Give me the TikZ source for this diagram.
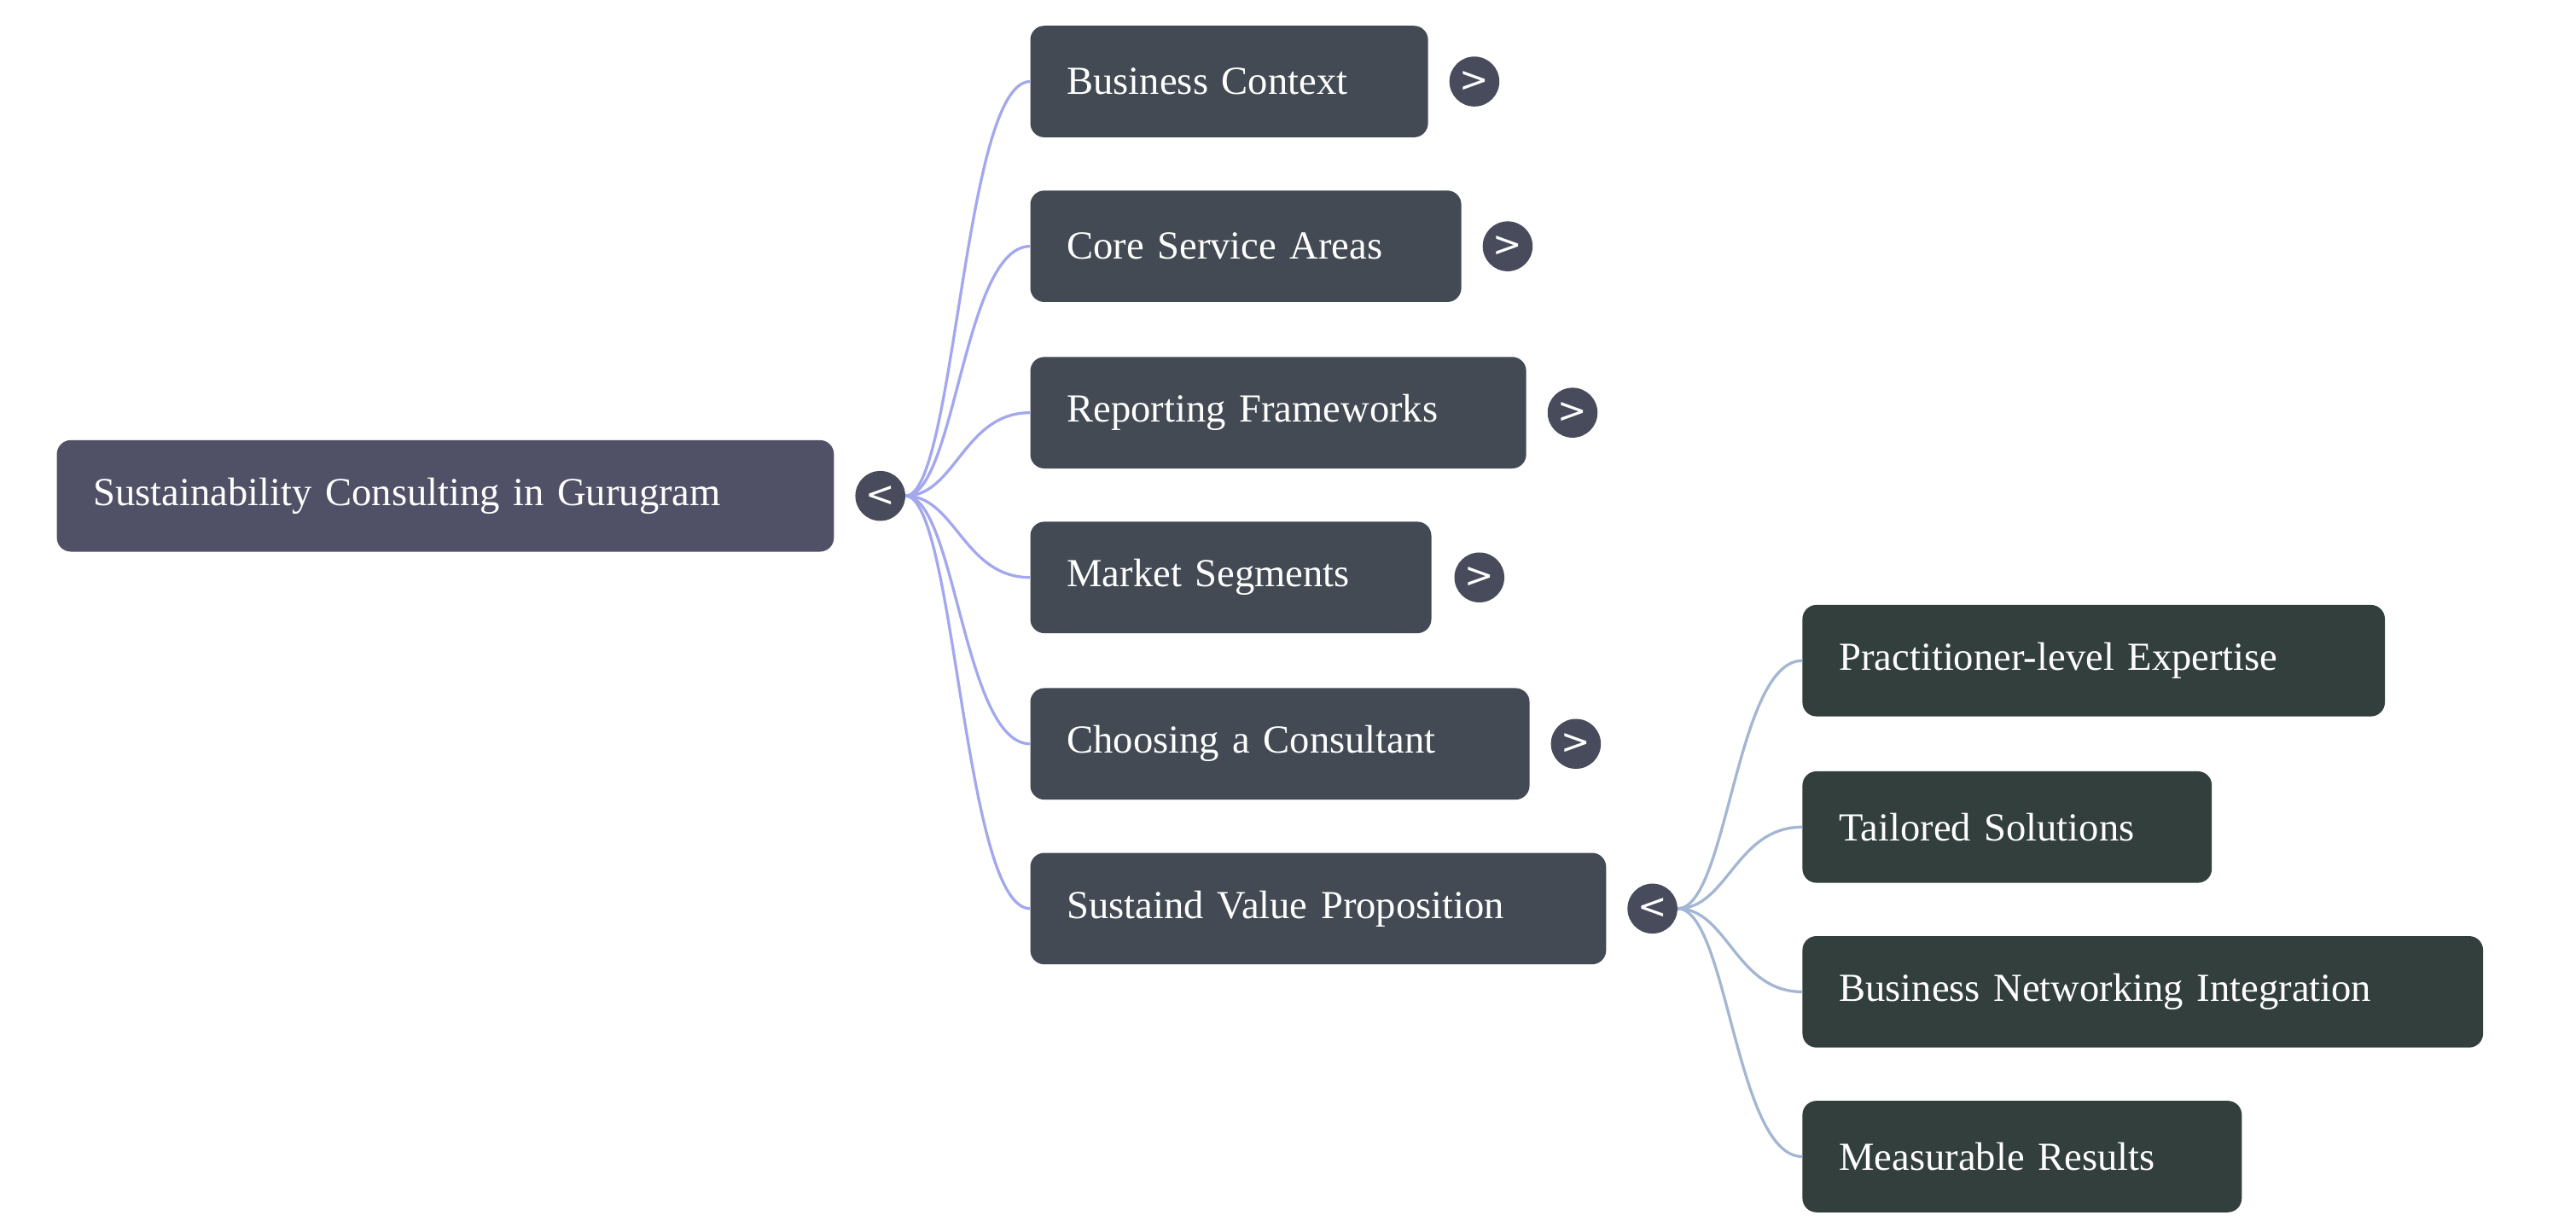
\documentclass[tikz,border=0pt]{standalone}
\usepackage{fontspec}
\setmainfont{Liberation Serif}[WordSpace=0.8]
\setsansfont{DejaVu Sans}
\definecolor{rootfill}{HTML}{505166}
\definecolor{midfill}{HTML}{434A54}
\definecolor{leaffill}{HTML}{323F3C}
\definecolor{knobfill}{HTML}{474B5B}
\definecolor{rootline}{HTML}{A3A8EE}
\definecolor{leafline}{HTML}{A3B6D3}
\tikzset{
  box/.style={rounded corners=12pt, anchor=west, text=white, inner xsep=22*0.05cm,
    text width=#1*0.05cm-44*0.05cm, align=left, minimum height=67*0.05cm,
    font=\fontsize{34}{40}\selectfont},
  knob/.style={circle, fill=knobfill, text=white, minimum size=30*0.05cm, inner sep=0pt,
    font=\sffamily\fontsize{30}{30}\selectfont},
  link/.style={line width=2.4pt, rootline},
  leaflink/.style={line width=2.4pt, leafline}
}
\begin{document}
\begin{tikzpicture}[x=0.05cm,y=-0.05cm]
  \useasboundingbox (0,0) rectangle (1548,737);
  % root
  \node[box=467, fill=rootfill] (root) at (34,298) {Sustainability Consulting in Gurugram};
  \node[knob] (rk) at (529,298) {<};
  % branches
  \node[box=239, fill=midfill] (ctx) at (619,49) {Business Context};
  \node[box=259, fill=midfill] (core) at (619,148) {Core Service Areas};
  \node[box=298, fill=midfill] (rep) at (619,248) {Reporting Frameworks};
  \node[box=241, fill=midfill] (mkt) at (619,347) {Market Segments};
  \node[box=300, fill=midfill] (cho) at (619,447) {Choosing a Consultant};
  \node[box=346, fill=midfill] (val) at (619,546) {Sustaind Value Proposition};
  \node[knob] (ctxk) at (886,49) {>};
  \node[knob] (corek) at (906,148) {>};
  \node[knob] (repk) at (945,248) {>};
  \node[knob] (mktk) at (889,347) {>};
  \node[knob] (chok) at (947,447) {>};
  \node[knob] (valk) at (993,546) {<};
  % leaves
  \node[box=350, fill=leaffill] (prac) at (1083,397) {Practitioner-level Expertise};
  \node[box=246, fill=leaffill] (tail) at (1083,497) {Tailored Solutions};
  \node[box=409, fill=leaffill] (net) at (1083,596) {Business Networking Integration};
  \node[box=264, fill=leaffill] (meas) at (1083,695) {Measurable Results};
  % links
  \foreach \n in {ctx,core,rep,mkt,cho,val}
    \draw[link] (rk.east) .. controls +(30,0) and +(-40,0) .. (\n.west);
  \foreach \n in {prac,tail,net,meas}
    \draw[leaflink] (valk.east) .. controls +(30,0) and +(-40,0) .. (\n.west);
\end{tikzpicture}
\end{document}
